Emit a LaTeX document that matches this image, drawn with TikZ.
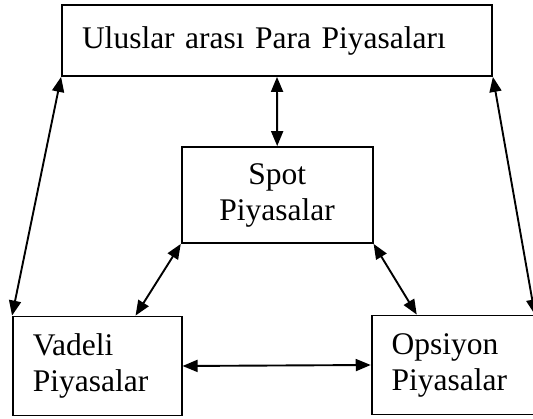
\documentclass[tikz,border=0pt]{standalone}
\usepackage{fontspec}
\setmainfont{Liberation Serif}
\usetikzlibrary{arrows.meta}

\begin{document}
\begin{tikzpicture}[x=1pt,y=-1pt,
  box/.style={draw,line width=1.8pt,inner xsep=20pt,inner ysep=0pt,
    font=\fontsize{31.5}{36}\selectfont},
  link/.style={line width=1.9pt,{Triangle[length=15pt,width=12pt]}-{Triangle[length=15pt,width=12pt]}}]

\useasboundingbox (0,0) rectangle (533,419);

% the four markets
\node[box,text width=390pt,minimum height=71pt,align=left] (para) at (277,40.5)
  {Uluslar arası Para Piyasaları};
\node[box,minimum width=191pt,minimum height=96pt,align=center] (spot) at (277.2,195)
  {Spot\\Piyasalar};
\node[box,text width=128.7pt,minimum height=99pt,align=left] (vadeli) at (97.3,366)
  {Vadeli\\Piyasalar};
\node[box,text width=148.3pt,minimum height=99pt,align=left] (opsiyon) at (465.8,365)
  {Opsiyon\\Piyasalar};

% links between them
\draw[link] (para.south) -- (spot.north);
\draw[link] (para.south west) -- (vadeli.north west);
\draw[link] (para.south east) -- ([xshift=-26pt]opsiyon.north east);
\draw[link] (spot.south west) -- ([xshift=-47pt]vadeli.north east);
\draw[link] (spot.south east) -- ([xshift=46pt]opsiyon.north west);
\draw[link] (vadeli.east) -- (opsiyon.west);

\end{tikzpicture}
\end{document}
